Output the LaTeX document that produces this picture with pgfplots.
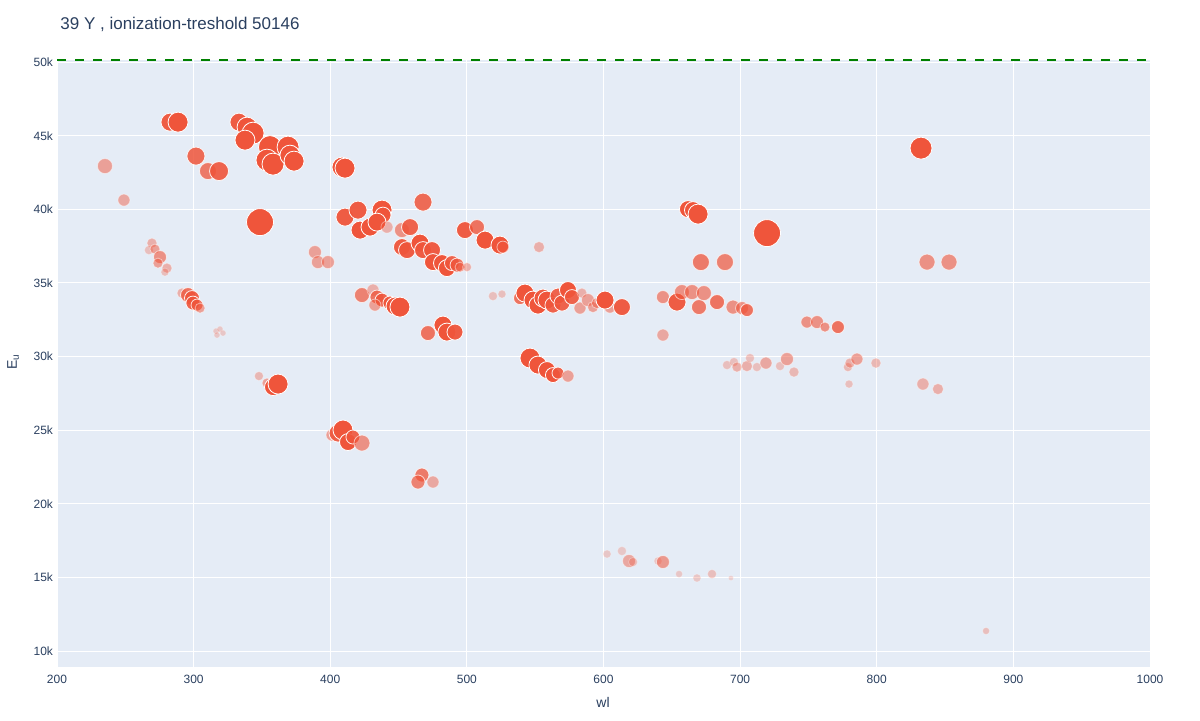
\documentclass[border=0pt]{standalone}
\usepackage{pgfplots}
\pgfplotsset{compat=1.18}
\usepackage{pgfplotstable}
\usepackage{fontspec}
\setmainfont{Liberation Sans}

\definecolor{plotbg}{HTML}{E5ECF6}
\definecolor{fontcol}{HTML}{2A3F5F}
\definecolor{ptred}{HTML}{EF553B}
\definecolor{thrgreen}{HTML}{008000}

% x = wl, y = E_u, s = marker diameter (px), o = opacity
\pgfplotstableread{
x y s o
235.1 42940 15 0.5
249.0 40630 12 0.45
282.7 45925 18 0.95
288.6 45925 20 1
301.7 43620 18 0.85
310.5 42600 17 0.75
318.6 42600 19 0.9
333.2 45925 18 0.95
339.1 45586 20 1
343.5 45178 22 1
337.6 44703 20 1
355.9 44228 23 1
353.7 43345 22 1
358.1 43073 22 1
369.1 44228 22 1
370.5 43684 20 1
373.5 43277 20 1
348.6 39134 27 1
408.6 42869 20 1
410.8 42802 20 1
269.5 37708 10 0.4
267.3 37233 9 0.3
271.7 37301 10 0.5
275.4 36758 13 0.6
273.9 36350 10 0.5
280.5 36010 10 0.4
279.0 35739 8 0.3
388.8 37097 13 0.5
391.0 36418 13 0.5
398.3 36418 13 0.5
291.5 34313 10 0.4
295.9 34177 15 0.8
298.8 33973 15 0.9
299.5 33634 14 0.9
302.5 33498 12 0.8
304.7 33294 10 0.5
316.4 31732 6 0.25
319.3 31868 6 0.25
321.5 31596 6 0.25
317.1 31461 6 0.25
347.8 28676 9 0.35
353.7 28201 10 0.5
358.1 27929 17 1
361.8 28133 20 1
410.8 39474 18 0.95
420.3 39949 18 0.95
437.9 39949 20 1
438.6 39610 16 0.95
421.8 38591 18 1
429.1 38795 18 1
434.2 39135 18 1
441.5 38795 12 0.4
467.9 40493 18 0.85
452.5 38591 15 0.6
458.4 38795 17 0.9
452.5 37437 17 0.95
456.2 37233 17 0.95
465.7 37708 18 1
467.9 37233 17 0.95
474.5 37233 17 0.95
475.2 36418 17 1
481.8 36350 17 1
485.4 36010 17 1
489.1 36350 15 0.9
492.8 36214 14 0.8
495.0 36078 10 0.5
500.1 36078 9 0.4
498.6 38591 17 0.95
507.4 38795 15 0.8
513.3 37912 18 1
524.2 37573 18 1
526.4 37437 12 0.6
552.8 37437 11 0.4
423.2 34177 15 0.7
431.3 34517 12 0.4
434.2 34041 14 0.8
437.9 33837 14 0.9
443.7 33634 14 0.9
432.7 33498 12 0.5
447.4 33430 18 1
451.0 33362 20 1
471.5 31597 15 0.8
482.5 32140 18 1
485.4 31665 18 1
491.3 31665 16 0.95
519.1 34109 9 0.3
525.7 34245 8 0.3
538.9 33973 13 0.8
542.5 34313 18 1
548.4 33838 18 1
552.0 33498 18 1
555.7 33973 18 0.95
558.6 33838 18 1
563.0 33498 16 0.9
566.7 34109 16 0.9
569.6 33634 16 0.9
574.0 34517 17 1
576.9 34041 15 0.9
584.2 34313 10 0.4
582.8 33294 12 0.5
588.6 33838 13 0.5
592.3 33362 11 0.5
595.2 33634 11 0.5
604.7 33362 12 0.5
601.1 33838 18 1
613.5 33362 17 0.95
546.2 29899 20 1
552.0 29424 18 1
558.6 29084 17 1
563.0 28744 15 1
566.7 28880 12 0.9
574.0 28676 12 0.5
643.5 34041 13 0.6
653.8 33702 18 0.95
657.4 34381 15 0.6
664.8 34381 15 0.6
669.9 33362 15 0.75
673.5 34313 15 0.6
683.1 33702 15 0.8
694.8 33362 14 0.6
701.4 33294 13 0.6
705.0 33158 13 0.8
643.5 31461 12 0.45
671.3 36418 17 0.75
688.9 36418 17 0.7
748.9 32343 12 0.6
756.3 32343 13 0.6
762.1 32004 10 0.6
771.6 32004 13 0.8
690.4 29424 9 0.3
695.5 29627 9 0.3
697.7 29288 10 0.4
705.0 29356 11 0.4
707.2 29899 9 0.3
712.3 29288 9 0.3
718.9 29559 12 0.45
729.2 29356 9 0.3
734.3 29831 13 0.5
739.4 28948 10 0.35
778.9 29288 9 0.35
780.4 29559 10 0.4
785.5 29831 12 0.5
779.7 28133 8 0.3
799.4 29559 10 0.35
661.8 40017 17 1
665.5 39949 17 1
669.2 39678 20 1
719.7 38387 27 1
836.8 36418 16 0.6
852.9 36418 16 0.6
832.4 44160 22 1
833.8 28133 12 0.4
844.8 27794 11 0.4
401.3 24670 12 0.5
405.7 24805 18 0.9
409.3 25011 20 1
413.0 24194 17 1
416.6 24534 14 0.9
423.2 24126 16 0.6
467.1 21953 14 0.75
464.2 21478 14 0.7
475.2 21478 12 0.45
602.6 16588 8 0.25
613.5 16792 9 0.25
618.7 16113 13 0.45
621.6 16045 9 0.3
639.9 16113 8 0.25
643.5 16045 13 0.55
655.3 15230 7 0.25
668.4 14958 8 0.25
679.4 15230 9 0.3
693.3 14958 5 0.2
880.0 11360 7 0.3
}\lines

\begin{document}
\begin{tikzpicture}
\useasboundingbox (0,0) rectangle (600pt,360pt);
\begin{axis}[
    at={(28.5pt,26.5pt)}, anchor=south west,
    scale only axis,
    width=546.5pt, height=303.5pt,
    xmin=200, xmax=1000,
    ymin=8913, ymax=50146,
    clip=false,
    scaled y ticks=false,
    axis background/.style={fill=plotbg},
    axis line style={draw=none},
    major tick length=0pt,
    grid=major,
    major grid style={white, line width=0.5pt},
    xtick={200,300,...,1000},
    xticklabels={200,300,400,500,600,700,800,900,1000},
    ytick={10000,15000,...,50000},
    yticklabels={10k,15k,20k,25k,30k,35k,40k,45k,50k},
    ticklabel style={font=\fontsize{6}{7}\selectfont, text=fontcol},
    xticklabel style={yshift=-0.5pt},
    yticklabel style={xshift=1.5pt},
]
\addplot[
    scatter, only marks, mark=*,
    scatter/use mapped color={draw=white, fill=ptred},
    visualization depends on={\thisrow{s} \as \msize},
    visualization depends on={\thisrow{o} \as \mop},
    scatter/@pre marker code/.append style={/tikz/mark size={\msize/4}, /tikz/line width=0.4pt},
    scatter/@pre marker code/.append code={\pgfsetfillopacity{\mop}\pgfsetstrokeopacity{\mop}},
] table[x=x, y=y] {\lines};
\addplot[thrgreen, line width=1pt, dash pattern=on 4.5pt off 4.5pt] coordinates {(200,50146) (1000,50146)};
\end{axis}
\node[anchor=west, inner sep=0pt, text=fontcol, font=\fontsize{8.5}{10}\selectfont] at (30pt,348pt) {39 Y , ionization-treshold 50146};
\node[text=fontcol, font=\fontsize{7}{8}\selectfont] at (301.5pt,9pt) {wl};
\node[rotate=90, text=fontcol, font=\fontsize{7}{8}\selectfont] at (6.5pt,179pt) {E\textsubscript{u}};
\end{tikzpicture}
\end{document}
